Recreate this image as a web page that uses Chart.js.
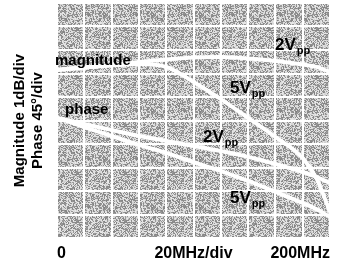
<!DOCTYPE html>
<html>
<head>
<meta charset="utf-8">
<script src="https://cdn.jsdelivr.net/npm/chart.js@4/dist/chart.umd.min.js"></script>
<style>
html,body{margin:0;padding:0;background:#fff;}
#wrap{width:338px;height:266px;}
</style>
</head>
<body>
<div id="wrap"><canvas id="c" width="338" height="266"></canvas></div>
<script>
// Frequency in MHz (0..200, 20 MHz/div)
const freqMHz = [0, 20, 40, 60, 80, 100, 120, 140, 160, 180, 190, 200];
// Values in grid divisions (0 = bottom, 10 = top)
const magnitude2Vpp = [7.15, 7.26, 7.36, 7.49, 7.60, 7.68, 7.70, 7.64, 7.53, 7.38, 7.28, 7.06];
const magnitude5Vpp = [7.15, 7.26, 7.34, 7.40, 7.28, 6.64, 5.91, 5.11, 4.30, 3.40, 2.55, 1.11];
const phase2Vpp     = [5.11, 4.85, 4.60, 4.34, 4.13, 3.91, 3.70, 3.45, 3.15, 2.81, 2.60, 2.34];
const phase5Vpp     = [5.11, 4.72, 4.34, 3.96, 3.62, 3.23, 2.85, 2.43, 1.96, 1.49, 1.23, 0.89];
const xTickLabels = {0: '0', 100: '20MHz/div', 200: '200MHz'};
const yTitle = ['Magnitude 1dB/div', 'Phase 45°/div'];

const FONT = "'Liberation Sans', Arial, Helvetica, sans-serif";

function toPts(ys){ return freqMHz.map((f,i)=>({x:f, y:ys[i]})); }

// deterministic halftone texture imitating the scanned gray backdrop
function makePattern(ctx){
  const N = 48;
  const p = document.createElement('canvas');
  p.width = N; p.height = N;
  const pc = p.getContext('2d');
  const img = pc.createImageData(N,N);
  for(let r=0;r<N;r++) for(let c=0;c<N;c++){
    let h = (r*374761393 + c*668265263) >>> 0;
    h = ((h ^ (h >>> 13)) * 1274126177) >>> 0;
    h = (h ^ (h >>> 16)) & 255;
    const v = h < 120 ? 0x80 + (h & 31) : 0xcc + (h & 31);
    const k=(r*N+c)*4;
    img.data[k]=v; img.data[k+1]=v; img.data[k+2]=v; img.data[k+3]=255;
  }
  pc.putImageData(img,0,0);
  return ctx.createPattern(p,'repeat');
}

const bgPlugin = {
  id:'bg',
  beforeDraw(chart){
    const {ctx, chartArea:a} = chart;
    ctx.save();
    ctx.fillStyle = makePattern(ctx);
    ctx.fillRect(a.left, a.top, a.right-a.left, a.bottom-a.top);
    ctx.restore();
  }
};

const labelPlugin = {
  id:'labels',
  afterDatasetsDraw(chart){
    const {ctx} = chart;
    const xs = chart.scales.x, ys = chart.scales.y;
    ctx.save();
    ctx.fillStyle = '#000';
    ctx.textAlign = 'left';
    ctx.textBaseline = 'middle';
    ctx.font = "bold 15px " + FONT;
    ctx.fillText('magnitude', xs.getPixelForValue(-1.5), ys.getPixelForValue(7.53));
    ctx.fillText('phase', xs.getPixelForValue(5.9), ys.getPixelForValue(5.45));
    const vpp = (lead, xv, yv) => {
      const x = xs.getPixelForValue(xv), y = ys.getPixelForValue(yv);
      ctx.textBaseline = 'alphabetic';
      ctx.font = "bold 17px " + FONT;
      ctx.fillText(lead, x, y);
      const w = ctx.measureText(lead).width;
      ctx.font = "bold 11px " + FONT;
      ctx.fillText('pp', x + w + 1, y + 4);
    };
    vpp('2V', 159.7, 8.0);
    vpp('5V', 126.7, 6.17);
    vpp('2V', 107, 4.09);
    vpp('5V', 126.7, 1.49);
    ctx.restore();
  }
};

const lineDs = (label, ys) => ({
  label, data: toPts(ys),
  borderColor:'#ffffff', borderWidth:4, pointRadius:0,
  tension:0.4, cubicInterpolationMode:'monotone', fill:false
});

new Chart(document.getElementById('c'), {
  type:'line',
  data:{ datasets:[
    lineDs('magnitude 2Vpp', magnitude2Vpp),
    lineDs('magnitude 5Vpp', magnitude5Vpp),
    lineDs('phase 2Vpp', phase2Vpp),
    lineDs('phase 5Vpp', phase5Vpp)
  ]},
  options:{
    responsive:false, animation:false, devicePixelRatio:1,
    layout:{padding:{top:3, right:8, left:0, bottom:0}},
    plugins:{legend:{display:false}, tooltip:{enabled:false}},
    scales:{
      x:{
        type:'linear', min:0, max:200,
        grid:{color:'#ffffff', lineWidth:2, drawTicks:false},
        border:{display:false},
        afterFit(s){ s.height = 28; },
        ticks:{
          stepSize:20, autoSkip:false, maxRotation:0, align:'inner', padding:6,
          color:'#000', font:{family:FONT, size:16, weight:'bold'},
          callback:(v)=> (v in xTickLabels) ? xTickLabels[v] : ''
        }
      },
      y:{
        type:'linear', min:0, max:10,
        grid:{color:'#ffffff', lineWidth:2, drawTicks:false},
        border:{display:false},
        afterFit(s){ s.width = 57; },
        ticks:{display:false, stepSize:1},
        title:{display:true, text:yTitle, color:'#000',
          font:{family:FONT, size:15, weight:'bold', lineHeight:1.2}, padding:{top:11,bottom:0}}
      }
    }
  },
  plugins:[bgPlugin, labelPlugin]
});
</script>
</body>
</html>
